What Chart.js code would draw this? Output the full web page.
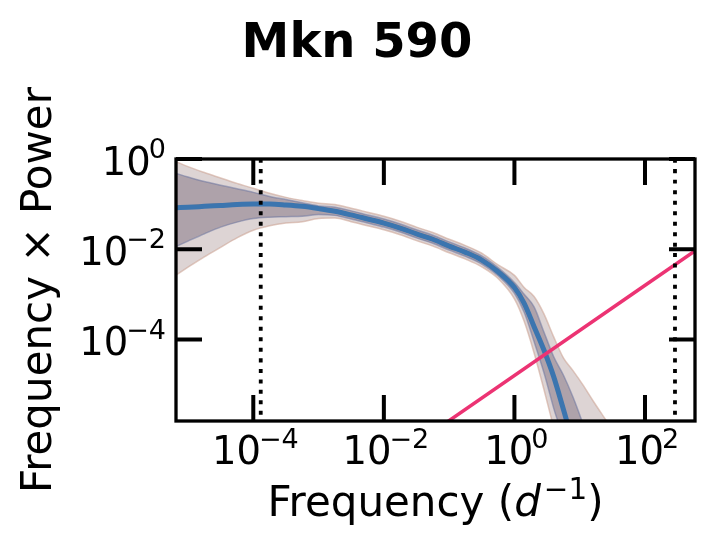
<!DOCTYPE html>
<html>
<head>
<meta charset="utf-8">
<title>Mkn 590</title>
<script src="https://cdn.jsdelivr.net/npm/chart.js@4.4.1/dist/chart.umd.min.js"></script>
<style>
  html, body { margin: 0; padding: 0; background: #fff; }
  canvas { display: block; }
</style>
</head>
<body>
<canvas id="psdChart" width="714" height="553"></canvas>
<script>
// Frequency grid (d^-1) shared by the PSD curves
var freq = [6.61e-6, 1.0e-5, 1.78e-5, 3.16e-5, 5.62e-5, 1.0e-4, 1.78e-4, 3.16e-4, 5.62e-4, 1.0e-3,
            1.78e-3, 3.16e-3, 5.62e-3, 1.0e-2, 1.78e-2, 3.16e-2, 5.62e-2, 0.1, 0.178, 0.316,
            0.562, 1.0, 1.41, 2.0, 2.82, 3.98, 5.62, 7.94, 11.2, 15.8, 22.4, 31.6, 44.7];

// Frequency x Power, median curve (blue) and second model (orange)
var median = [0.0832, 0.0851, 0.0891, 0.0933, 0.0977, 0.100, 0.100, 0.0955, 0.0891, 0.0794,
              0.0692, 0.0575, 0.0468, 0.0380, 0.0295, 0.0219, 0.0166, 0.0117, 0.00851, 0.00575,
              0.00316, 0.00141, 6.31e-4, 1.91e-4, 5.89e-5, 1.51e-5, 2.82e-6, 5.01e-7, 1.0e-7];
var medianAlt = [0.0890, 0.0911, 0.0953, 0.0998, 0.105, 0.107, 0.107, 0.102, 0.0953, 0.0850,
                 0.0740, 0.0615, 0.0501, 0.0407, 0.0316, 0.0234, 0.0178, 0.0125, 0.00911, 0.00620,
                 0.00345, 0.00158, 7.2e-4, 2.2e-4, 6.9e-5, 1.8e-5, 3.4e-6, 6.0e-7, 1.2e-7];

// Inner (1 sigma) and outer (2 sigma) bands
var innerHi = [0.479, 0.398, 0.316, 0.263, 0.219, 0.182, 0.148, 0.126, 0.107, 0.0912,
               0.0851, 0.0708, 0.0575, 0.0468, 0.0363, 0.0269, 0.0204, 0.0145, 0.0105, 0.00708,
               0.00389, 0.00182, 0.00100, 5.25e-4, 1.48e-4, 4.17e-5, 1.62e-5, 5.13e-6, 1.35e-6, 3.16e-7,
               7.94e-8, 1e-8, 1e-8];
var innerLo = [0.0115, 0.0151, 0.0219, 0.0309, 0.0398, 0.0479, 0.0513, 0.0525, 0.0537, 0.0589,
               0.0562, 0.0468, 0.0380, 0.0309, 0.0240, 0.0178, 0.0135, 0.00955, 0.00692, 0.00468,
               0.00257, 0.00105, 3.98e-4, 8.91e-5, 1.86e-5, 3.02e-6, 5.01e-7, 1e-8, 1e-8, 1e-8,
               1e-8, 1e-8, 1e-8];
var outerHi = [0.871, 0.676, 0.501, 0.380, 0.288, 0.224, 0.174, 0.141, 0.120, 0.105,
               0.0977, 0.0813, 0.0661, 0.0537, 0.0417, 0.0309, 0.0234, 0.0166, 0.0120, 0.00813,
               0.00447, 0.00263, 0.00141, 8.91e-4, 3.72e-4, 1.15e-4, 3.89e-5, 2.0e-5, 9.77e-6, 4.47e-6,
               2.09e-6, 1.0e-6, 3.98e-7];
var outerLo = [0.00269, 0.00398, 0.00676, 0.0110, 0.0178, 0.0263, 0.0331, 0.0380, 0.0407, 0.0479,
               0.0490, 0.0407, 0.0331, 0.0269, 0.0209, 0.0155, 0.0117, 0.00832, 0.00603, 0.00407,
               0.00224, 7.94e-4, 2.51e-4, 5.01e-5, 7.94e-6, 1.12e-6, 1.58e-7, 2e-8, 1e-8, 1e-8,
               1e-8, 1e-8, 1e-8];

// White noise level line
var noiseFreq = [0.01, 1000];
var noisePower = [1.58e-7, 0.0158];

// Sampling limits (dotted lines)
var freqLimits = [1.3e-4, 288];

// Axis ticks
var xTicks = [1e-4, 1e-2, 1, 100];
var xTickExp = ['\u22124', '\u22122', '0', '2'];
var yTicks = [1, 1e-2, 1e-4];
var yTickExp = ['0', '\u22122', '\u22124'];

function pts(xs, ys) {
    var out = [];
    for (var i = 0; i < ys.length; i++) out.push({x: xs[i], y: ys[i]});
    return out;
}

function limitLine(f) {
    return [{x: f, y: 1e-8}, {x: f, y: 10}];
}

var FONT = '"DejaVu Sans", sans-serif';

function drawPow(ctx, exp, x, base, align) {
    ctx.font = '38.5px ' + FONT;
    var w1 = ctx.measureText('10').width;
    ctx.font = '27px ' + FONT;
    var w2 = ctx.measureText(exp).width;
    var total = w1 - 2 + w2;
    var sx = align === 'center' ? x - total / 2 : x - total;
    ctx.textAlign = 'left';
    ctx.textBaseline = 'alphabetic';
    ctx.font = '38.5px ' + FONT;
    ctx.fillText('10', sx, base);
    ctx.font = '27px ' + FONT;
    ctx.fillText(exp, sx + w1 - 2, base - 16.5);
}

// matplotlib-like frame, inward ticks, labels and titles
var axesPlugin = {
    id: 'mplAxes',
    afterDraw: function(chart) {
        var ctx = chart.ctx, a = chart.chartArea;
        var xs = chart.scales.x, ys = chart.scales.y;
        ctx.save();
        ctx.strokeStyle = '#000';
        ctx.fillStyle = '#000';
        ctx.lineCap = 'butt';

        ctx.lineWidth = 4;
        ctx.beginPath();
        xTicks.forEach(function(v) {
            var px = xs.getPixelForValue(v);
            ctx.moveTo(px, a.bottom); ctx.lineTo(px, a.bottom - 26);
            ctx.moveTo(px, a.top); ctx.lineTo(px, a.top + 26);
        });
        yTicks.forEach(function(v) {
            var py = ys.getPixelForValue(v);
            ctx.moveTo(a.left, py); ctx.lineTo(a.left + 26, py);
            ctx.moveTo(a.right, py); ctx.lineTo(a.right - 26, py);
        });
        ctx.stroke();

        ctx.lineWidth = 3.3;
        ctx.strokeRect(a.left, a.top, a.right - a.left, a.bottom - a.top);

        xTicks.forEach(function(v, i) {
            drawPow(ctx, xTickExp[i], xs.getPixelForValue(v) + 2, a.bottom + 43, 'center');
        });
        yTicks.forEach(function(v, i) {
            drawPow(ctx, yTickExp[i], a.left - 10, ys.getPixelForValue(v) + 15.7, 'right');
        });

        // title
        ctx.font = 'bold 48px ' + FONT;
        ctx.textAlign = 'center';
        ctx.fillText('Mkn 590', chart.width / 2, 57);

        // x axis title: Frequency (d^-1)
        var p1 = 'Frequency (', p2 = 'd', p3 = '\u22121', p4 = ')';
        ctx.font = '42px ' + FONT; var w1 = ctx.measureText(p1).width, w4 = ctx.measureText(p4).width;
        ctx.font = 'italic 42px ' + FONT; var w2 = ctx.measureText(p2).width;
        ctx.font = '29.4px ' + FONT; var w3 = ctx.measureText(p3).width;
        var cx = (a.left + a.right) / 2;
        var sx = cx - (w1 + w2 + w3 + w4 + 3) / 2, by = 516;
        ctx.textAlign = 'left';
        ctx.font = '42px ' + FONT; ctx.fillText(p1, sx, by);
        ctx.font = 'italic 42px ' + FONT; ctx.fillText(p2, sx + w1, by);
        ctx.font = '29.4px ' + FONT; ctx.fillText(p3, sx + w1 + w2 + 3, by - 17);
        ctx.font = '42px ' + FONT; ctx.fillText(p4, sx + w1 + w2 + w3 + 3, by);

        // y axis title
        ctx.translate(51, (a.top + a.bottom) / 2);
        ctx.rotate(-Math.PI / 2);
        ctx.textAlign = 'center';
        ctx.font = '42px ' + FONT;
        ctx.fillText('Frequency \u00d7 Power', 0, 0);
        ctx.restore();
    }
};

var ctx = document.getElementById('psdChart').getContext('2d');
var psdChart = new Chart(ctx, {
    type: 'line',
    data: {
        datasets: [
            {   // 0: white noise
                data: pts(noiseFreq, noisePower),
                borderColor: '#ec3373', borderWidth: 3.5, pointRadius: 0, fill: false, order: 1
            },
            {   // 1: low frequency limit
                data: limitLine(freqLimits[0]),
                borderColor: '#000', borderWidth: 3.8, borderDash: [4, 6.5], pointRadius: 0, fill: false, order: 0
            },
            {   // 2: high frequency limit
                data: limitLine(freqLimits[1]),
                borderColor: '#000', borderWidth: 3.8, borderDash: [4, 6.5], pointRadius: 0, fill: false, order: 0
            },
            {   // 3: median
                data: pts(freq, median),
                borderColor: '#3b75af', borderWidth: 5, pointRadius: 0, fill: false, order: 2
            },
            {   // 4: second model median
                data: pts(freq, medianAlt),
                borderColor: '#e8823a', borderWidth: 1.5, pointRadius: 0, fill: false, order: 3
            },
            {   // 5: inner band upper
                data: pts(freq, innerHi),
                borderColor: 'rgba(110,118,160,0.55)', borderWidth: 1.5, pointRadius: 0, fill: false, order: 4
            },
            {   // 6: inner band lower
                data: pts(freq, innerLo),
                borderColor: 'rgba(110,118,160,0.55)', borderWidth: 1.5, pointRadius: 0,
                backgroundColor: '#aea2aa', fill: 5, order: 4
            },
            {   // 7: outer band upper
                data: pts(freq, outerHi),
                borderColor: 'rgba(205,165,150,0.6)', borderWidth: 1.5, pointRadius: 0, fill: false, order: 5
            },
            {   // 8: outer band lower
                data: pts(freq, outerLo),
                borderColor: 'rgba(205,165,150,0.6)', borderWidth: 1.5, pointRadius: 0,
                backgroundColor: '#ddd4d4', fill: 7, order: 5
            }
        ]
    },
    options: {
        responsive: false,
        animation: false,
        cubicInterpolationMode: 'monotone',
        layout: { padding: { left: 176, right: 19, top: 159, bottom: 132 } },
        scales: {
            x: { type: 'logarithmic', display: false, min: 6.546e-6, max: 583.4 },
            y: { type: 'logarithmic', display: false, min: 1.549e-6, max: 1 }
        },
        plugins: {
            legend: { display: false },
            tooltip: { enabled: false }
        }
    },
    plugins: [axesPlugin]
});
</script>
</body>
</html>
